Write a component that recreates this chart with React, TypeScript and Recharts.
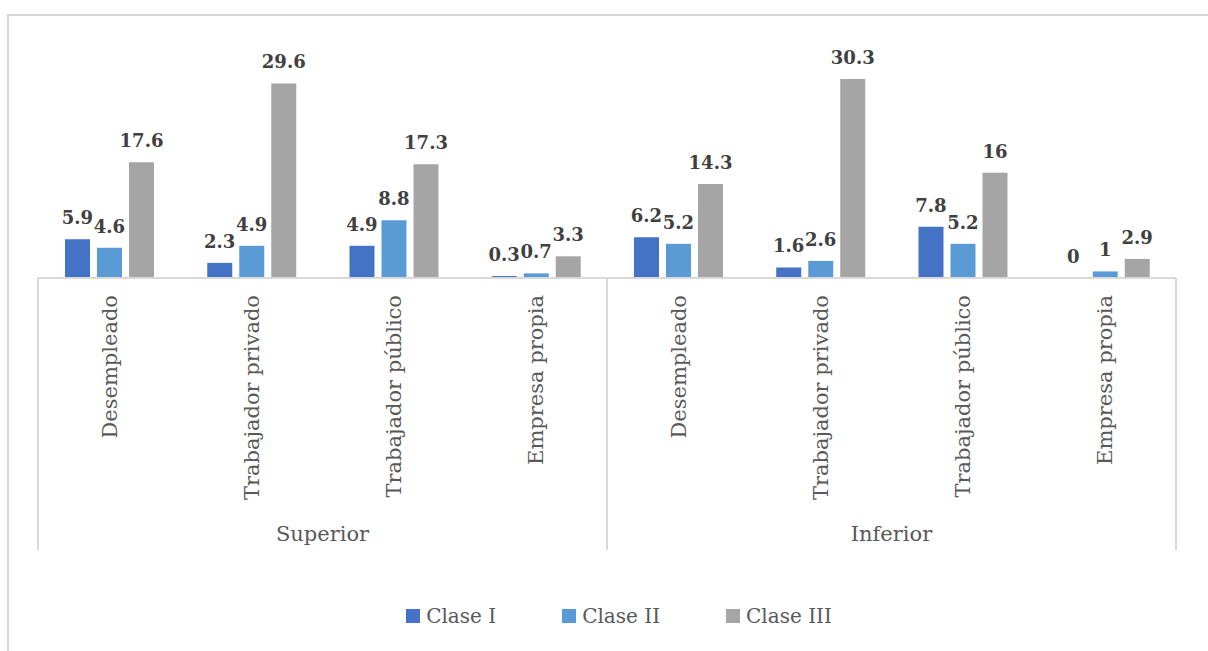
import { Bar, BarChart, LabelList, Legend, XAxis, YAxis } from "recharts";

const categories = [
  "Desempleado",
  "Trabajador privado",
  "Trabajador público",
  "Empresa propia",
  "Desempleado",
  "Trabajador privado",
  "Trabajador público",
  "Empresa propia"
];
const groups = ["Superior", "Superior", "Superior", "Superior", "Inferior", "Inferior", "Inferior", "Inferior"];
const claseI = [5.9, 2.3, 4.9, 0.3, 6.2, 1.6, 7.8, 0];
const claseII = [4.6, 4.9, 8.8, 0.7, 5.2, 2.6, 5.2, 1];
const claseIII = [17.6, 29.6, 17.3, 3.3, 14.3, 30.3, 16, 2.9];

const series = [
  { key: "claseI", name: "Clase I", color: "#4472c4" },
  { key: "claseII", name: "Clase II", color: "#5b9bd5" },
  { key: "claseIII", name: "Clase III", color: "#a5a5a5" }
];

const data = categories.map((cat, i) => ({
  cat,
  group: groups[i],
  claseI: claseI[i],
  claseII: claseII[i],
  claseIII: claseIII[i]
}));

const FONT = "'DejaVu Serif', serif";
const LINE = "#d9d9d9";
const TEXT = "#595959";

function CategoryTick(props: any) {
  const { x, y, payload, index } = props;
  const half = payload.offset ?? 0;
  const edges: number[] = [];
  if (index === 0 || index === 4) edges.push(x - half);
  if (index === categories.length - 1) edges.push(x + half);
  return (
    <g>
      {edges.map((lx) => (
        <line key={lx} x1={lx} x2={lx} y1={y} y2={y + 272} stroke={LINE} strokeWidth={2} />
      ))}
      <text
        transform={`translate(${x},${y + 17}) rotate(-90)`}
        textAnchor="end"
        dy="0.36em"
        fill={TEXT}
        fontSize={21}
        fontFamily={FONT}
      >
        {categories[index] ?? payload.value}
      </text>
    </g>
  );
}

function GroupTick(props: any) {
  const { x, y, payload } = props;
  return (
    <text x={x} y={y + 23} textAnchor="middle" fill={TEXT} fontSize={21} fontFamily={FONT}>
      {payload.value}
    </text>
  );
}

// value labels drawn by hand so a zero bar still shows "0"
function ValueLabel(props: any) {
  const { x, y, width, value } = props;
  if (value == null) return null;
  return (
    <text
      x={Number(x) + Number(width) / 2}
      y={Number(y) - 15}
      textAnchor="middle"
      fill="#404040"
      fontSize={18}
      fontWeight="bold"
      fontFamily={FONT}
    >
      {value}
    </text>
  );
}

function LegendContent() {
  return (
    <div
      style={{
        display: "flex",
        justifyContent: "center",
        alignItems: "center",
        height: 30,
        paddingLeft: 30,
        gap: 66,
        fontFamily: FONT,
        fontSize: 20,
        color: TEXT
      }}
    >
      {series.map((s) => (
        <div key={s.key} style={{ display: "flex", alignItems: "center", gap: 6 }}>
          <span style={{ width: 14, height: 14, background: s.color, display: "inline-block" }} />
          <span>{s.name}</span>
        </div>
      ))}
    </div>
  );
}

export default function App() {
  return (
    <div
      style={{
        position: "absolute",
        left: 0,
        top: 0,
        width: 1208,
        height: 651,
        overflow: "hidden",
        background: "#fff",
        fontFamily: FONT
      }}
    >
      <div
        style={{
          position: "absolute",
          left: 7,
          top: 14,
          width: 1300,
          height: 700,
          borderTop: `2px solid ${LINE}`,
          borderLeft: `2px solid ${LINE}`
        }}
      />
      <div style={{ position: "absolute", left: 0, top: 0 }}>
        <BarChart
          width={1208}
          height={651}
          data={data}
          margin={{ top: 48, right: 32, left: 38, bottom: 93 }}
          barSize={25}
          barGap={7}
        >
          <XAxis
            dataKey="cat"
            interval={0}
            height={240}
            tickSize={0}
            tickMargin={0}
            tickLine={false}
            axisLine={{ stroke: LINE, strokeWidth: 2 }}
            tick={<CategoryTick />}
          />
          <XAxis
            xAxisId="grp"
            dataKey="group"
            allowDuplicatedCategory={false}
            interval={0}
            height={40}
            tickSize={0}
            tickMargin={0}
            tickLine={false}
            axisLine={false}
            tick={<GroupTick />}
          />
          <YAxis hide domain={[0, 35]} />
          <Legend
            layout="horizontal"
            verticalAlign="middle"
            align="center"
            content={<LegendContent />}
            wrapperStyle={{ top: 601, left: 0, width: 1208 }}
          />
          {series.map((s) => (
            <Bar
              key={s.key}
              dataKey={s.key}
              name={s.name}
              fill={s.color}
              minPointSize={(v: number) => (v === 0 ? 0.01 : 0)}
              isAnimationActive={false}
            >
              <LabelList dataKey={s.key} content={<ValueLabel />} />
            </Bar>
          ))}
        </BarChart>
      </div>
    </div>
  );
}
